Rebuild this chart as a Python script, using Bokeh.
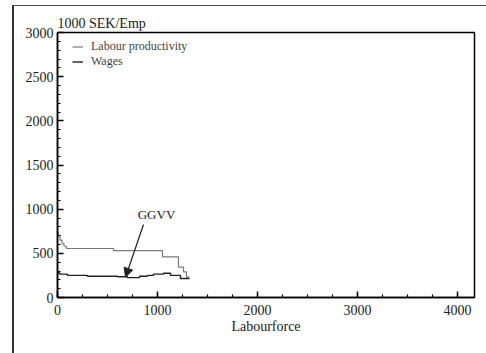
from bokeh.plotting import figure
from bokeh.models import (Label, Legend, LegendItem, Arrow, NormalHead, Range1d,
                          FixedTicker, InlineStyleSheet)
from bokeh.embed import file_html
from bokeh.resources import INLINE

# Step data (x = labourforce, y = 1000 SEK/Emp)
prod_x = [0, 10, 25, 45, 65, 90, 560, 1050, 1210, 1260, 1290, 1320]
prod_y = [740, 700, 650, 610, 580, 555, 530, 460, 345, 290, 230, 230]
wage_x = [0, 20, 100, 300, 600, 700, 820, 900, 960, 1060, 1130, 1230, 1320]
wage_y = [280, 265, 250, 240, 235, 225, 240, 250, 265, 275, 250, 215, 215]

x_ticks = [0, 1000, 2000, 3000, 4000]
x_minor = [v for v in range(0, 4170, 250)]
y_ticks = [0, 500, 1000, 1500, 2000, 2500, 3000]
y_minor = [v for v in range(0, 3001, 100)]

FONT = "Liberation Serif"

p = figure(width=486, height=353, output_backend="svg", toolbar_location=None,
           x_range=Range1d(0, 4170), y_range=Range1d(0, 3000),
           min_border_left=57, min_border_right=12, min_border_top=32, min_border_bottom=56)
p.grid.visible = False
p.background_fill_color = None
p.border_fill_color = "white"
p.outline_line_color = "black"
p.outline_line_width = 1.5

p.title.text = "1000 SEK/Emp"
p.title.align = "left"
p.title.offset = 0
p.title.text_font = FONT
p.title.text_font_size = "14px"
p.title.text_font_style = "normal"
p.title.text_color = "#222222"
p.title.standoff = 3

r1 = p.step(prod_x, prod_y, mode="after", line_color="#7a7a7a", line_width=1.2)
r2 = p.step(wage_x, wage_y, mode="after", line_color="#222222", line_width=1.4)

p.xaxis.ticker = FixedTicker(ticks=x_ticks, minor_ticks=x_minor)
p.yaxis.ticker = FixedTicker(ticks=y_ticks, minor_ticks=y_minor)

for ax in (p.xaxis[0], p.yaxis[0]):
    ax.major_tick_in = 6
    ax.major_tick_out = 0
    ax.minor_tick_in = 3
    ax.minor_tick_out = 0
    ax.major_tick_line_width = 1.5
    ax.minor_tick_line_width = 1.2
    ax.major_tick_line_color = "black"
    ax.minor_tick_line_color = "black"
    ax.axis_line_width = 1.5
    ax.axis_line_color = "black"
    ax.major_label_text_font = FONT
    ax.major_label_text_font_size = "14px"
    ax.major_label_text_color = "#222222"

p.xaxis.major_label_standoff = 7
p.yaxis.major_label_standoff = 4
p.xaxis.axis_label = "Labourforce"
p.xaxis.axis_label_text_font = FONT
p.xaxis.axis_label_text_font_style = "normal"
p.xaxis.axis_label_text_font_size = "14px"
p.xaxis.axis_label_standoff = 1
p.xaxis.axis_label_text_color = "#222222"

p.add_layout(Label(x=990, y=940, text="GGVV", text_font=FONT, text_font_size="13px",
                   text_align="center", text_baseline="middle", text_color="#222222"))
p.add_layout(Arrow(x_start=860, y_start=827, x_end=680, y_end=230,
                   line_color="#222222", line_width=1.2,
                   end=NormalHead(size=9, fill_color="#222222", line_color="#222222")))

legend = Legend(items=[LegendItem(label="Labour productivity", renderers=[r1]),
                       LegendItem(label="Wages", renderers=[r2])],
                location=(15, 228), margin=0, padding=0, spacing=0,
                glyph_width=11, glyph_height=13, label_height=13, label_standoff=8,
                label_text_font=FONT, label_text_font_size="12px",
                border_line_color=None, background_fill_alpha=0)
p.add_layout(legend)

p.stylesheets = [InlineStyleSheet(css=(
    ":host::after { content: ''; position: absolute; left: 12px; top: 5px; "
    "width: 480px; height: 360px; border-left: 2px solid #333; "
    "border-top: 1.5px solid #555; pointer-events: none; }"))]

open("out.html", "w").write(file_html(p, INLINE))
